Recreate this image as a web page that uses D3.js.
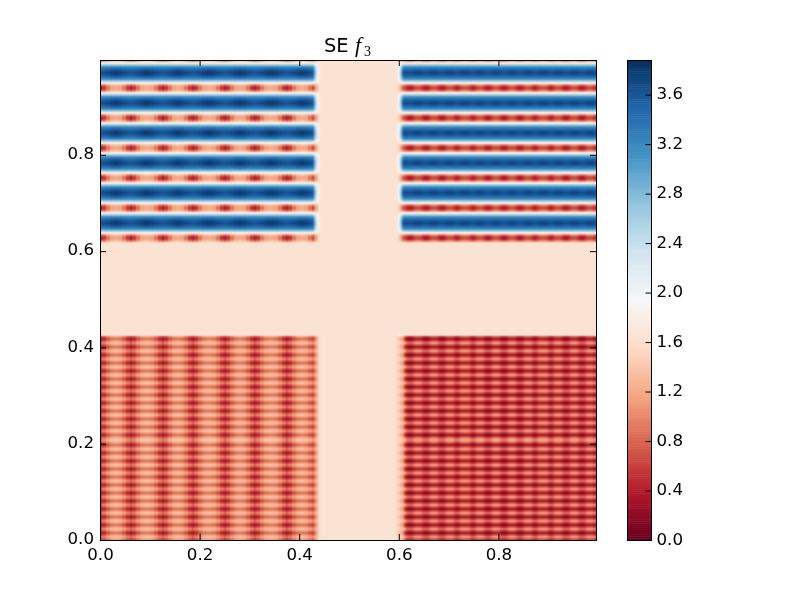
<!DOCTYPE html>
<html>
<head>
<meta charset="utf-8">
<script src="https://cdn.jsdelivr.net/npm/d3@7"></script>
<style>
body { margin: 0; background: white; }
#chart { position: relative; width: 800px; height: 600px; }
#chart canvas, #chart svg { position: absolute; left: 0; top: 0; }
text { font-family: "DejaVu Sans", sans-serif; }
</style>
</head>
<body>
<div id="chart"></div>
<script>
// colour map, low to high
var rdbuStops = ["#67001f", "#b2182b", "#d6604d", "#f4a582", "#fddbc7", "#f7f7f7", "#d1e5f0", "#92c5de", "#4393c3", "#2166ac", "#053061"];
var xTicks = [0, 0.2, 0.4, 0.6, 0.8];
var yTicks = [0, 0.2, 0.4, 0.6, 0.8];
var barTicks = [0, 0.4, 0.8, 1.2, 1.6, 2.0, 2.4, 2.8, 3.2, 3.6];
var background = 1.66;
var valueMax = 3.88;
var xMax = 0.996;
var yMax = 0.997;

// one band of the upper blocks, rows across, phase along x
var topLeftTile = [
    [0.36, 0.55, 0.90, 1.15, 1.20],
    [0.85, 1.00, 1.20, 1.35, 1.40],
    [1.90, 1.90, 1.90, 1.90, 1.90],
    [2.65, 2.65, 2.65, 2.65, 2.65],
    [3.15, 3.15, 3.15, 3.20, 3.20],
    [3.40, 3.42, 3.45, 3.50, 3.52],
    [3.55, 3.58, 3.62, 3.68, 3.72],
    [3.62, 3.66, 3.70, 3.76, 3.82]
];
var topRightTile = [
    [0.38, 0.48, 0.62, 0.68],
    [0.90, 0.95, 1.05, 1.10],
    [1.90, 1.90, 1.90, 1.90],
    [2.65, 2.65, 2.65, 2.65],
    [3.15, 3.15, 3.15, 3.15],
    [3.42, 3.42, 3.45, 3.45],
    [3.58, 3.60, 3.62, 3.64],
    [3.66, 3.68, 3.72, 3.74]
];
// one stripe of the lower blocks
var bottomLeftTile = [
    [0.20, 0.40, 0.65, 0.82, 0.88],
    [0.55, 0.70, 0.92, 1.10, 1.15],
    [0.80, 1.00, 1.20, 1.35, 1.40],
    [0.55, 0.70, 0.92, 1.10, 1.15]
];
var bottomRightTile = [
    [0.08, 0.18, 0.30, 0.35],
    [0.48, 0.56, 0.68, 0.74],
    [0.85, 0.95, 1.10, 1.15],
    [0.48, 0.56, 0.68, 0.74]
];

// which tile row each grid row uses, from the top of the image
var topRows = [
    1, 2, 3, 4, 5, 6, 7, 6, 5, 4, 3, 2, 1, 0,
    0, 1, 2, 3, 4, 5, 6, 7, 6, 5, 4, 3, 2, 1, 0,
    0, 1, 2, 3, 4, 5, 6, 7, 6, 5, 4, 3, 2, 1, 0,
    0, 1, 2, 3, 4, 5, 6, 7, 6, 5, 4, 3, 2, 1, 0,
    0, 1, 2, 3, 4, 5, 6, 7, 6, 5, 4, 3, 2, 1, 0,
    0, 1, 2, 3, 4, 5, 6, 7, 6, 5, 4, 3, 2, 1, 0,
    0, 1
];
var bottomRows = [
    3,
    0, 1, 2, 3, 0, 1, 2, 3, 0, 1, 2, 3, 0, 1, 2, 3, 0, 1, 2, 3, 0, 1, 2, 3,
    0, 1, 2, 3, 0, 1, 2, 3, 0, 1, 2, 3, 0, 1, 2, 3, 0, 1, 2, 3, 0, 1, 2, 3,
    0, 1, 2, 2, 3,
    0, 1, 2, 3, 0, 1, 2, 3, 0, 1, 2, 3, 0, 1, 2, 3, 0, 1, 2, 3, 0, 1, 2, 3,
    0, 1, 2, 3, 0, 1, 2, 3, 0, 1, 2, 3, 0, 1, 2, 3, 0, 1, 2, 3, 0, 1, 2, 3
];
var bottomFirstRow = 138;

// which tile column each grid column uses
var leftCols = [
    0, 1, 1, 2, 2, 3, 3, 4, 4, 3, 3, 2, 2, 1, 1, 0, 1, 1, 2, 2, 3, 3, 4, 4, 4, 3, 3, 2, 2, 1, 1,
    0, 1, 1, 2, 2, 3, 3, 4, 4, 3, 3, 2, 2, 1, 1, 0, 1, 1, 2, 2, 3, 3, 4, 4, 4, 3, 3, 2, 2, 1, 1,
    0, 1, 1, 2, 2, 3, 3, 4, 4, 3, 3, 2, 2, 1, 1, 0, 1, 1, 2, 2, 3, 3, 4, 4, 4, 3, 3, 2, 2, 1, 1,
    0, 1, 1, 2, 2, 3, 3, 4, 4, 3, 3, 2, 2, 1, 1, 0, 1
];
var rightCols = [
    1, 2, 3, 3, 2, 1, 0, 0, 1, 2, 3, 3, 2, 1, 0, 0, 1, 2, 3, 3, 2, 1, 0, 0, 1, 2, 3, 3, 2, 1, 0,
    1, 2, 3, 3, 3, 2, 1, 0, 1, 2, 3, 3, 2, 1, 0, 0, 1, 2, 3, 3, 2, 1, 0, 0, 1, 2, 3, 3, 2, 1, 0, 0,
    1, 2, 3, 3, 2, 1, 0, 1, 2, 3, 3, 3, 2, 1, 0, 1, 2, 3, 3, 2, 1, 0, 0, 1, 2, 3, 3, 2, 1, 0, 0,
    1, 2, 3, 3, 2, 1
];
var rightFirstCol = 148;
var nCols = 248;
var nRows = 240;

// how far the blocks have faded into the background at their inner edges
var leftFadeTop = [0.95, 0.6, 0.3, 0.1];
var leftFadeBottom = [0.9, 0.65, 0.35, 0.12];
var rightFadeTop = [0.05, 0.2, 0.55, 0.9];
var rightFadeBottom = [0.12, 0.2, 0.35, 0.5, 0.85];
// the pale fleck on the top corner of the lower right block: col, row, value
var cornerFleck = [[148, 137, 1.75], [149, 137, 1.95], [150, 137, 1.95], [151, 137, 1.75]];

var left = 100, top_ = 60, plotW = 496, plotH = 480;
var barLeft = 628, barW = 24;

var x = d3.scaleLinear().domain([0, xMax]).range([left, left + plotW]);
var y = d3.scaleLinear().domain([0, yMax]).range([top_ + plotH, top_]);
var barY = d3.scaleLinear().domain([0, valueMax]).range([top_ + plotH, top_]);
var color = d3.scaleLinear()
    .domain(rdbuStops.map((d, i) => valueMax * i / (rdbuStops.length - 1)))
    .range(rdbuStops);

function cellValue(c, r) {
    var isTop = r < topRows.length;
    var rowIdx = isTop ? topRows[r] : bottomRows[r - bottomFirstRow];
    if (rowIdx === undefined) return background;
    var fade = 1, tile, colIdx;
    if (c < leftCols.length) {
        tile = isTop ? topLeftTile : bottomLeftTile;
        colIdx = leftCols[c];
        var lf = isTop ? leftFadeTop : leftFadeBottom;
        var fromEnd = c - (leftCols.length - lf.length);
        if (fromEnd >= 0) fade = lf[fromEnd];
    } else if (c >= rightFirstCol) {
        tile = isTop ? topRightTile : bottomRightTile;
        colIdx = rightCols[c - rightFirstCol];
        var rf = isTop ? rightFadeTop : rightFadeBottom;
        if (c - rightFirstCol < rf.length) fade = rf[c - rightFirstCol];
    } else {
        return background;
    }
    return background + (tile[rowIdx][colIdx] - background) * fade;
}

var chart = d3.select("#chart");
var canvas = chart.append("canvas").attr("width", 800).attr("height", 600).node();
var ctx = canvas.getContext("2d");

// the image itself: one pixel per grid cell, stretched with smoothing
var off = document.createElement("canvas");
off.width = nCols;
off.height = nRows;
var offCtx = off.getContext("2d");
d3.range(nRows).forEach(function(r) {
    d3.range(nCols).forEach(function(c) {
        offCtx.fillStyle = color(cellValue(c, r));
        offCtx.fillRect(c, r, 1, 1);
    });
});
cornerFleck.forEach(function(d) {
    offCtx.fillStyle = color(d[2]);
    offCtx.fillRect(d[0], d[1], 1, 1);
});
ctx.imageSmoothingEnabled = true;
ctx.drawImage(off, x(0), y(yMax), x(xMax) - x(0), y(0) - y(yMax));

var svg = chart.append("svg").attr("width", 800).attr("height", 600);

// frame
svg.append("rect")
    .attr("x", left + 0.5).attr("y", top_ + 0.5)
    .attr("width", plotW).attr("height", plotH)
    .attr("fill", "none").attr("stroke", "black");

var fmt = d3.format(".1f");
function styleAxis(g) {
    g.select(".domain").remove();
    g.selectAll("line").attr("stroke", "black");
    g.selectAll("text").style("font-size", "16.67px").attr("fill", "black");
}

svg.append("g").attr("transform", `translate(0,${top_ + plotH})`)
    .call(d3.axisBottom(x).tickValues(xTicks).tickFormat(fmt).tickSize(-6).tickPadding(8))
    .call(styleAxis);
svg.append("g").attr("transform", `translate(0,${top_})`)
    .call(d3.axisTop(x).tickValues(xTicks.slice(1)).tickFormat("").tickSize(-6))
    .call(styleAxis);
svg.append("g").attr("transform", `translate(${left},0)`)
    .call(d3.axisLeft(y).tickValues(yTicks).tickFormat(fmt).tickSize(-6).tickPadding(6))
    .call(styleAxis)
    .call(g => g.selectAll("text").attr("y", -1.5));
svg.append("g").attr("transform", `translate(${left + plotW},0)`)
    .call(d3.axisRight(y).tickValues(yTicks.slice(1)).tickFormat("").tickSize(-6))
    .call(styleAxis);

// colour bar
var barLevels = d3.range(256).map(i => (i + 0.5) / 256 * valueMax);
svg.append("g").selectAll("rect")
    .data(barLevels)
    .enter()
    .append("rect")
    .attr("x", barLeft)
    .attr("width", barW)
    .attr("y", d => barY(d + valueMax / 512))
    .attr("height", barY(0) - barY(valueMax / 256) + 0.5)
    .attr("fill", d => color(d));
svg.append("rect")
    .attr("x", barLeft - 0.5).attr("y", top_ + 0.5)
    .attr("width", barW).attr("height", plotH)
    .attr("fill", "none").attr("stroke", "black");
svg.append("g").attr("transform", `translate(${barLeft + barW - 0.5},0)`)
    .call(d3.axisRight(barY).tickValues(barTicks).tickFormat(fmt).tickSize(-6).tickPadding(5))
    .call(styleAxis)
    .call(g => g.selectAll("text").attr("y", -1));

// title
var title = svg.append("text").attr("x", 324).attr("y", 52).style("font-size", "19.44px");
title.append("tspan").text("SE");
title.append("tspan").attr("x", 355).style("font-family", "Liberation Serif").style("font-style", "italic").style("font-size", "22px").text("f");
title.append("tspan").attr("x", 364).attr("y", 56).style("font-family", "Liberation Serif").style("font-size", "14px").text("3");
</script>
</body>
</html>
